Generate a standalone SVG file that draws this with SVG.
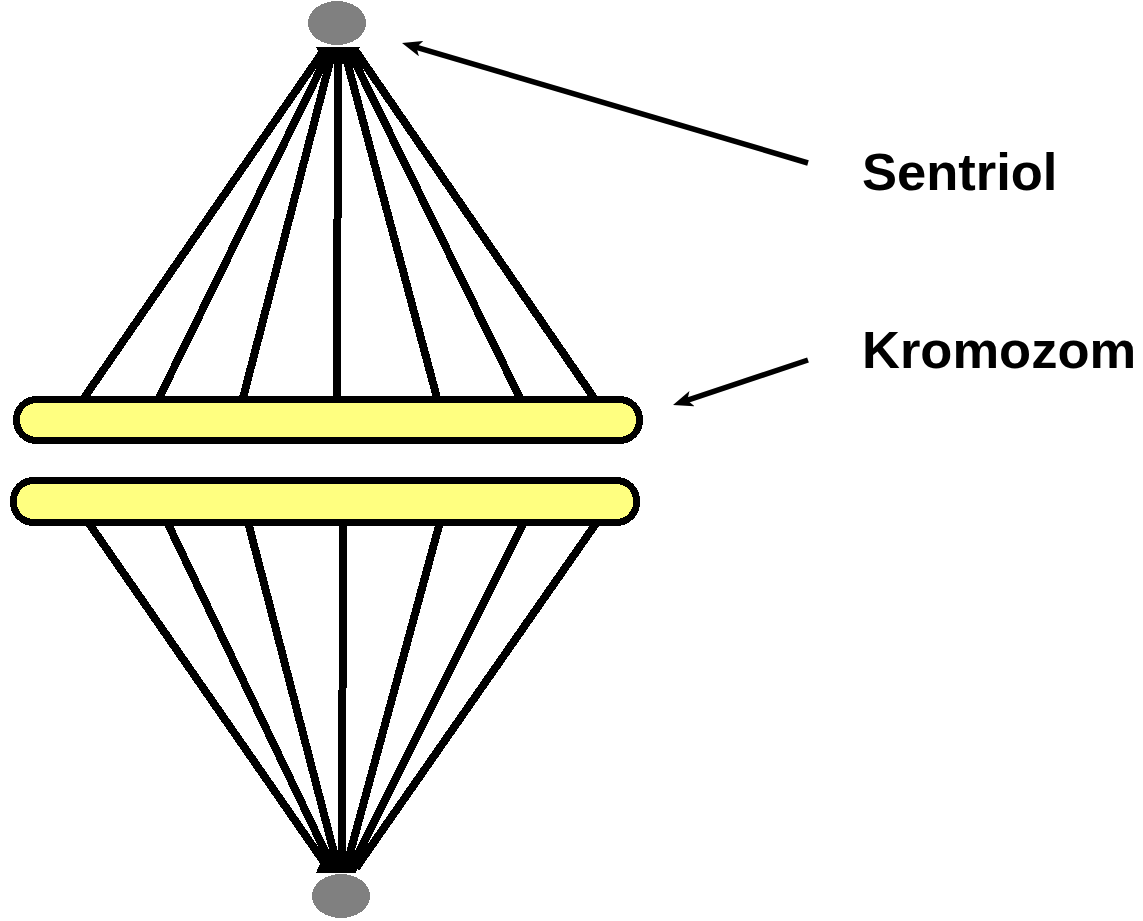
<svg xmlns="http://www.w3.org/2000/svg" width="1143" height="921" viewBox="0 0 1143 921">
  <style>
    .fiber { stroke: #000; stroke-width: 8; fill: none; shape-rendering: crispEdges; }
    .chromosome { fill: #FFFF80; stroke: #000; stroke-width: 7; shape-rendering: crispEdges; }
    .centriole { fill: #808080; shape-rendering: crispEdges; }
    .pointer { stroke: #000; stroke-width: 5.5; fill: none; marker-end: url(#head); }
    .label { font-family: "Liberation Sans", Arial, sans-serif; font-weight: bold; font-size: 52.5px; fill: #000; }
  </style>
  <defs>
    <marker id="head" markerUnits="userSpaceOnUse" markerWidth="20" markerHeight="16" viewBox="0 0 20 16" refX="10" refY="8" orient="auto">
      <path d="M0,0 L20,8 L0,16 L5,8 z" fill="#000"/>
    </marker>
  </defs>

  <rect width="1143" height="921" fill="#fff"/>

  <!-- spindle fibers and label pointers -->
  <g id="connectors">
    <g id="fibers-upper">
      <line class="fiber" x1="324" y1="50" x2="84" y2="398"/>
      <line class="fiber" x1="330" y1="50" x2="159" y2="398"/>
      <line class="fiber" x1="333" y1="50" x2="243" y2="398"/>
      <line class="fiber" x1="338" y1="50" x2="337" y2="398"/>
      <line class="fiber" x1="344" y1="50" x2="437" y2="398"/>
      <line class="fiber" x1="349" y1="50" x2="520" y2="398"/>
      <line class="fiber" x1="355" y1="50" x2="594" y2="398"/>
    </g>
    <g id="fibers-lower">
      <line class="fiber" x1="88" y1="522" x2="328" y2="868"/>
      <line class="fiber" x1="167" y1="522" x2="333" y2="868"/>
      <line class="fiber" x1="248" y1="522" x2="338" y2="868"/>
      <line class="fiber" x1="343" y1="522" x2="342" y2="868"/>
      <line class="fiber" x1="440" y1="522" x2="346" y2="868"/>
      <line class="fiber" x1="524" y1="522" x2="351" y2="868"/>
      <line class="fiber" x1="597" y1="522" x2="356" y2="868"/>
    </g>
    <line id="pointer-sentriol" class="pointer" x1="808" y1="163" x2="411.6" y2="45.8"/>
    <line id="pointer-kromozom" class="pointer" x1="808" y1="360" x2="682.5" y2="401.8"/>
  </g>

  <!-- pole knots where the fibers meet -->
  <g id="pole-knots">
    <path d="M316,47 L360,47 L352,64 L326,64 z" fill="#000" shape-rendering="crispEdges"/>
    <path d="M324,854 L360,854 L356,873 L316,873 z" fill="#000" shape-rendering="crispEdges"/>
  </g>

  <g id="chromosome-upper">
    <rect class="chromosome" x="16.5" y="399.5" width="623" height="41" rx="20" ry="20"/>
  </g>
  <g id="chromosome-lower">
    <rect class="chromosome" x="13.5" y="480.5" width="623" height="42" rx="20" ry="20"/>
  </g>

  <g id="centriole-upper">
    <ellipse class="centriole" cx="337" cy="23" rx="29" ry="22"/>
  </g>
  <g id="centriole-lower">
    <ellipse class="centriole" cx="341" cy="896" rx="29" ry="22"/>
  </g>

  <g id="label-sentriol">
    <text class="label" x="862" y="190">Sentriol</text>
  </g>
  <g id="label-kromozom">
    <text class="label" x="862" y="368">Kromozom</text>
  </g>
</svg>
